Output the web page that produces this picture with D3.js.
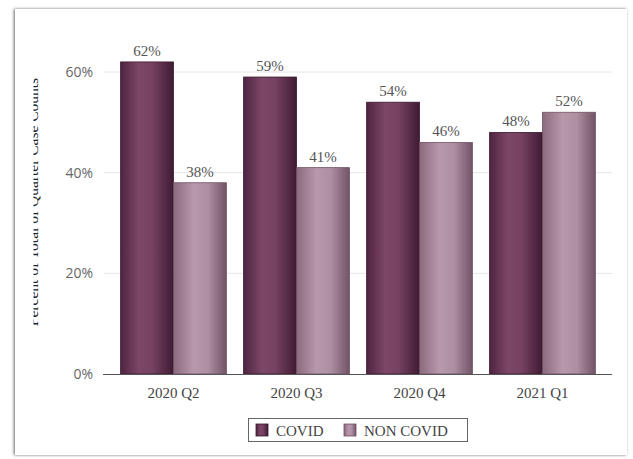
<!DOCTYPE html>
<html>
<head>
<meta charset="utf-8">
<script src="https://cdn.jsdelivr.net/npm/d3@7"></script>
<style>
  html, body { margin: 0; padding: 0; background: #ffffff; }
  svg { display: block; }
</style>
</head>
<body>
<svg id="chart" width="633" height="459"></svg>
<script>
// Share of quarterly case counts
const quarters = ["2020 Q2", "2020 Q3", "2020 Q4", "2021 Q1"];
const seriesNames = ["COVID", "NON COVID"];
const covid = [62, 59, 54, 48];
const nonCovid = [38, 41, 46, 52];
const yTicks = [0, 20, 40, 60];

const svg = d3.select("#chart");
const W = 633, H = 459;
const margin = { top: 72, bottom: 85, left: 112, right: 29 };

const defs = svg.append("defs");

// soft card shadow
const shadow = defs.append("filter").attr("id", "cardShadow")
  .attr("x", "-5%").attr("y", "-5%").attr("width", "110%").attr("height", "110%");
shadow.append("feGaussianBlur").attr("in", "SourceAlpha").attr("stdDeviation", 1.6).attr("result", "b");
shadow.append("feOffset").attr("in", "b").attr("dx", -1).attr("dy", 0).attr("result", "o");
shadow.append("feComponentTransfer").attr("in", "o").attr("result", "s")
  .append("feFuncA").attr("type", "linear").attr("slope", 0.6);
const merge = shadow.append("feMerge");
merge.append("feMergeNode").attr("in", "s");
merge.append("feMergeNode").attr("in", "SourceGraphic");

function barGradient(id, stops) {
  const g = defs.append("linearGradient").attr("id", id)
    .attr("x1", "0%").attr("x2", "100%").attr("y1", "0%").attr("y2", "0%");
  stops.forEach(([o, c]) => g.append("stop").attr("offset", o).attr("stop-color", c));
}
barGradient("gCovid", [["0%", "#4f2440"], ["35%", "#7d4767"], ["60%", "#764262"], ["100%", "#3f1a32"]]);
barGradient("gNon", [["0%", "#8c6a7d"], ["38%", "#b898ab"], ["65%", "#ae8ea1"], ["100%", "#725466"]]);

// card
svg.append("rect")
  .attr("x", 15).attr("y", 9).attr("width", 612).attr("height", 446)
  .attr("fill", "#ffffff").attr("filter", "url(#cardShadow)");

const x0 = d3.scaleBand().domain(quarters)
  .range([margin.left, W - margin.right]).paddingInner(0.14).paddingOuter(0.07);
const x1 = d3.scaleBand().domain(seriesNames).range([0, x0.bandwidth()]);
const y = d3.scaleLinear().domain([0, 60]).range([H - margin.bottom, margin.top]);

// gridlines
svg.append("g").selectAll("line").data(yTicks.filter(d => d > 0)).join("line")
  .attr("x1", 104).attr("x2", 612)
  .attr("y1", d => y(d)).attr("y2", d => y(d))
  .attr("stroke", "#e6e6e6").attr("stroke-width", 1);

// y axis labels
const yAxis = svg.append("g").attr("transform", "translate(104,0)")
  .call(d3.axisLeft(y).tickValues(yTicks).tickFormat(d => d + "%").tickSize(0).tickPadding(11));
yAxis.select(".domain").remove();
yAxis.selectAll("text")
  .attr("font-family", "'Open Sans', 'DejaVu Sans', sans-serif")
  .attr("font-size", 14).attr("fill", "#666");

// y axis title, partly hidden by the card edge
const clip = defs.append("clipPath").attr("id", "titleClip");
clip.append("rect").attr("x", 33.5).attr("y", 0).attr("width", 40).attr("height", H);
svg.append("g").attr("clip-path", "url(#titleClip)")
  .append("text")
  .attr("transform", "translate(37.5,202) rotate(-90)")
  .attr("text-anchor", "middle")
  .attr("font-family", "'Liberation Serif', 'DejaVu Serif', serif")
  .attr("font-size", 15.5).attr("fill", "#222")
  .text("Percent of Total of Quarter Case Counts");

// bars
const rows = quarters.map((q, i) => ({ q, vals: [covid[i], nonCovid[i]] }));
const groups = svg.append("g").selectAll("g").data(rows).join("g")
  .attr("transform", d => `translate(${x0(d.q)},0)`);

groups.selectAll("rect").data(d => d.vals.map((v, j) => ({ s: seriesNames[j], v }))).join("rect")
  .attr("x", d => x1(d.s)).attr("width", x1.bandwidth())
  .attr("y", d => y(d.v)).attr("height", d => y(0) - y(d.v))
  .attr("fill", d => d.s === "COVID" ? "url(#gCovid)" : "url(#gNon)")
  .attr("stroke", d => d.s === "COVID" ? "#3a1830" : "#6e5262")
  .attr("stroke-width", 0.8);

groups.selectAll("text").data(d => d.vals.map((v, j) => ({ s: seriesNames[j], v }))).join("text")
  .attr("x", d => x1(d.s) + x1.bandwidth() / 2)
  .attr("y", d => y(d.v) - 6)
  .attr("text-anchor", "middle")
  .attr("font-family", "'Liberation Serif', 'DejaVu Serif', serif")
  .attr("font-size", 15).attr("fill", "#555")
  .text(d => d.v + "%");

// x axis
const xAxis = svg.append("g").attr("transform", `translate(0,${y(0)})`)
  .call(d3.axisBottom(x0).tickSize(0).tickPadding(13));
xAxis.select(".domain").attr("d", `M103,0.5H612`).attr("stroke", "#555").attr("stroke-width", 1);
xAxis.selectAll("text")
  .attr("font-family", "'Liberation Serif', 'DejaVu Serif', serif")
  .attr("font-size", 15).attr("fill", "#444");

// legend
const lg = svg.append("g");
lg.append("rect").attr("x", 248.5).attr("y", 418.5).attr("width", 219).attr("height", 23)
  .attr("fill", "#fff").attr("stroke", "#666").attr("stroke-width", 1);
const items = [
  { name: "COVID", sx: 256, tx: 276, fill: "url(#gCovid)", stroke: "#3a1830" },
  { name: "NON COVID", sx: 344, tx: 364, fill: "url(#gNon)", stroke: "#6e5262" }
];
const li = lg.selectAll("g").data(items).join("g");
li.append("rect").attr("x", d => d.sx).attr("y", 424).attr("width", 12).attr("height", 12)
  .attr("fill", d => d.fill).attr("stroke", d => d.stroke).attr("stroke-width", 0.8);
li.append("text").attr("x", d => d.tx).attr("y", 435.5)
  .attr("font-family", "'Liberation Serif', 'DejaVu Serif', serif")
  .attr("font-size", 15).attr("fill", "#444")
  .text(d => d.name);
</script>
</body>
</html>
